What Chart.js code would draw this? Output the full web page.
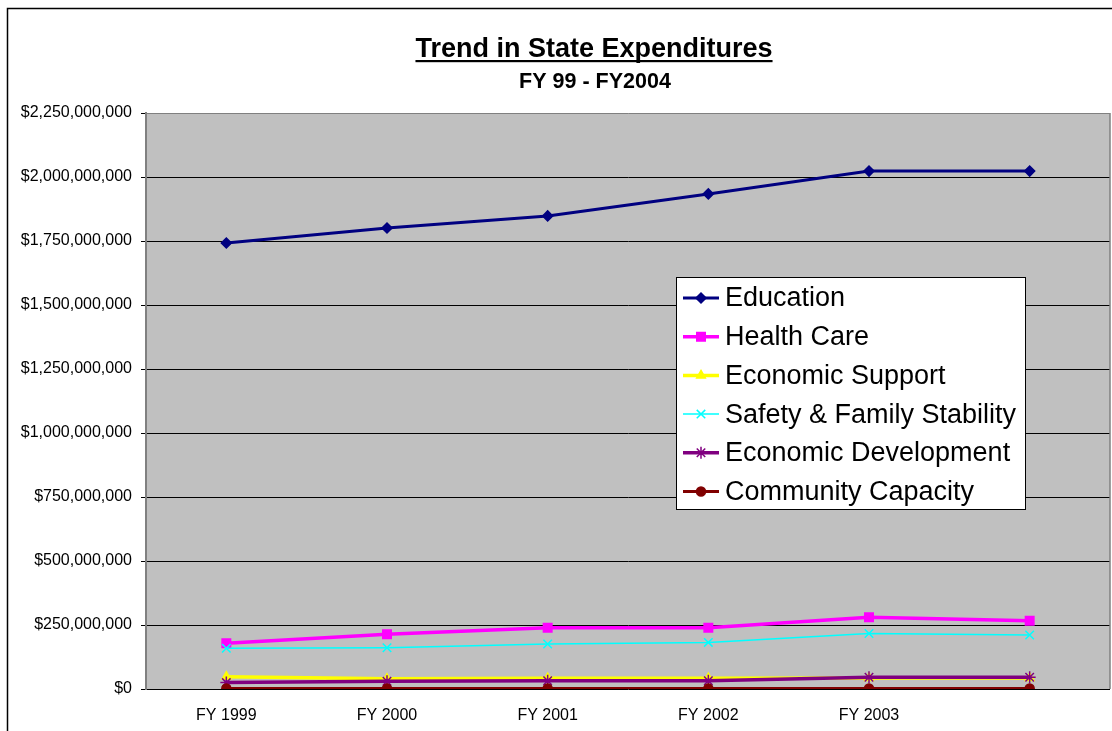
<!DOCTYPE html>
<html>
<head>
<meta charset="utf-8">
<title>Trend in State Expenditures</title>
<script src="https://cdn.jsdelivr.net/npm/chart.js@4.4.0/dist/chart.umd.min.js"></script>
<style>
  html, body { margin: 0; padding: 0; background: #fff; }
  #wrap { width: 1112px; height: 731px; }
</style>
</head>
<body>
<div id="wrap"><canvas id="trendChart" width="1112" height="731"></canvas></div>
<script>
// fiscal years (last point has no label on the axis)
const years = ['FY 1999', 'FY 2000', 'FY 2001', 'FY 2002', 'FY 2003', ''];

// expenditures by area, dollars
const education = [1742e6, 1801e6, 1848e6, 1934e6, 2023e6, 2023e6];
const healthCare = [179e6, 214e6, 239e6, 239e6, 280e6, 267e6];
const economicSupport = [48e6, 40e6, 42e6, 42e6, 43e6, 43e6];
const safetyFamily = [159e6, 161e6, 176e6, 182e6, 217e6, 211e6];
const economicDev = [25e6, 30e6, 32e6, 32e6, 46e6, 46e6];
const communityCapacity = [2e6, 2e6, 2e6, 2e6, 2e6, 2e6];

const yTicks = [0, 250e6, 500e6, 750e6, 1000e6, 1250e6, 1500e6, 1750e6, 2000e6, 2250e6];

const FONT = "'Liberation Sans', Arial, Helvetica, sans-serif";

function series(label, data, color, width, style, radius) {
    return {
        label: label,
        data: data,
        borderColor: color,
        backgroundColor: color,
        borderWidth: width,
        pointStyle: style,
        pointRadius: radius,
        pointBorderWidth: 1.5,
        pointBorderColor: color,
        pointBackgroundColor: color,
        tension: 0,
        fill: false
    };
}

const datasets = [
    series('Education', education, '#000080', 3, 'rectRot', 5),
    series('Health Care', healthCare, '#FF00FF', 3.5, 'rect', 6),
    series('Economic Support', economicSupport, '#FFFF00', 3.5, 'triangle', 5),
    series('Safety & Family Stability', safetyFamily, '#00FFFF', 1.5, 'crossRot', 6),
    series('Economic Development', economicDev, '#800080', 3.5, 'star', 6),
    series('Community Capacity', communityCapacity, '#800000', 3, 'circle', 4.5)
];
// later series sit on top of earlier ones
datasets.forEach((ds, i) => { ds.order = datasets.length - i; });

// white page, outer frame, grey plot area and the underlined title
const backdrop = {
    id: 'backdrop',
    beforeDraw(chart) {
        const ctx = chart.ctx;
        const a = chart.chartArea;
        ctx.save();
        ctx.fillStyle = '#fff';
        ctx.fillRect(0, 0, chart.width, chart.height);

        ctx.strokeStyle = '#000';
        ctx.lineWidth = 1.5;
        ctx.beginPath();
        ctx.moveTo(7.5, chart.height);
        ctx.lineTo(7.5, 8.5);
        ctx.lineTo(chart.width, 8.5);
        ctx.stroke();

        ctx.fillStyle = '#C0C0C0';
        ctx.fillRect(a.left, a.top, a.right - a.left, a.bottom - a.top);

        ctx.fillStyle = '#000';
        ctx.textAlign = 'center';
        ctx.textBaseline = 'alphabetic';
        ctx.font = 'bold 27px ' + FONT;
        const title = 'Trend in State Expenditures';
        const cx = 594;
        ctx.fillText(title, cx, 57);
        const w = ctx.measureText(title).width;
        ctx.fillRect(cx - w / 2, 60, w, 2.2);

        ctx.font = 'bold 21.5px ' + FONT;
        ctx.fillText('FY 99 - FY2004', 595, 88);
        ctx.restore();
    },
    beforeDatasetsDraw(chart) {
        const ctx = chart.ctx;
        const a = chart.chartArea;
        ctx.save();
        ctx.strokeStyle = '#808080';
        ctx.lineWidth = 1.5;
        ctx.beginPath();
        ctx.moveTo(a.right, a.top);
        ctx.lineTo(a.right, a.bottom);
        ctx.stroke();
        ctx.restore();
    }
};

// boxed legend sitting inside the plot
const boxLegend = {
    id: 'boxLegend',
    afterDraw(chart) {
        const ctx = chart.ctx;
        const box = { x: 676, y: 277, w: 349, h: 232 };
        ctx.save();
        ctx.fillStyle = '#fff';
        ctx.fillRect(box.x, box.y, box.w, box.h);
        ctx.strokeStyle = '#000';
        ctx.lineWidth = 1;
        ctx.strokeRect(box.x + 0.5, box.y + 0.5, box.w, box.h);

        ctx.font = '27px ' + FONT;
        ctx.textAlign = 'left';
        ctx.textBaseline = 'middle';
        chart.data.datasets.forEach((ds, i) => {
            const y = 298 + i * 38.7;
            ctx.strokeStyle = ds.borderColor;
            ctx.lineWidth = ds.borderWidth;
            ctx.beginPath();
            ctx.moveTo(683, y);
            ctx.lineTo(719, y);
            ctx.stroke();

            ctx.fillStyle = ds.pointBackgroundColor;
            ctx.strokeStyle = ds.pointBorderColor;
            ctx.lineWidth = ds.pointBorderWidth;
            Chart.helpers.drawPoint(ctx, {
                pointStyle: ds.pointStyle,
                radius: ds.pointRadius,
                rotation: 0,
                borderWidth: ds.pointBorderWidth
            }, 701, y);

            ctx.fillStyle = '#000';
            ctx.fillText(ds.label, 725, y + 1);
        });
        ctx.restore();
    }
};

const money = v => '$' + Number(v).toLocaleString('en-US');

new Chart(document.getElementById('trendChart').getContext('2d'), {
    type: 'line',
    data: { labels: years, datasets: datasets },
    options: {
        responsive: false,
        animation: false,
        events: [],
        layout: { autoPadding: false, padding: { top: 113, right: 2, bottom: 0, left: 0 } },
        plugins: {
            legend: { display: false },
            title: { display: false },
            tooltip: { enabled: false }
        },
        scales: {
            x: {
                offset: true,
                grid: { display: false, drawTicks: false },
                border: { display: false },
                ticks: {
                    color: '#000',
                    font: { family: FONT, size: 16 },
                    padding: 17,
                    maxRotation: 0,
                    autoSkip: false
                },
                afterFit(scale) { scale.height = 42; }
            },
            y: {
                min: 0,
                max: 2250e6,
                afterBuildTicks(scale) {
                    scale.ticks = yTicks.map(v => ({ value: v }));
                },
                grid: {
                    color: ctx => ctx.tick && ctx.tick.value === 2250e6 ? '#808080' : '#000',
                    lineWidth: 1,
                    drawTicks: true,
                    tickLength: 5,
                    tickColor: '#000'
                },
                border: { display: true, color: '#808080', width: 2 },
                ticks: {
                    color: '#000',
                    font: { family: FONT, size: 16 },
                    padding: 9,
                    callback: v => money(v)
                },
                afterFit(scale) { scale.width = 146; }
            }
        }
    },
    plugins: [backdrop, boxLegend]
});
</script>
</body>
</html>
